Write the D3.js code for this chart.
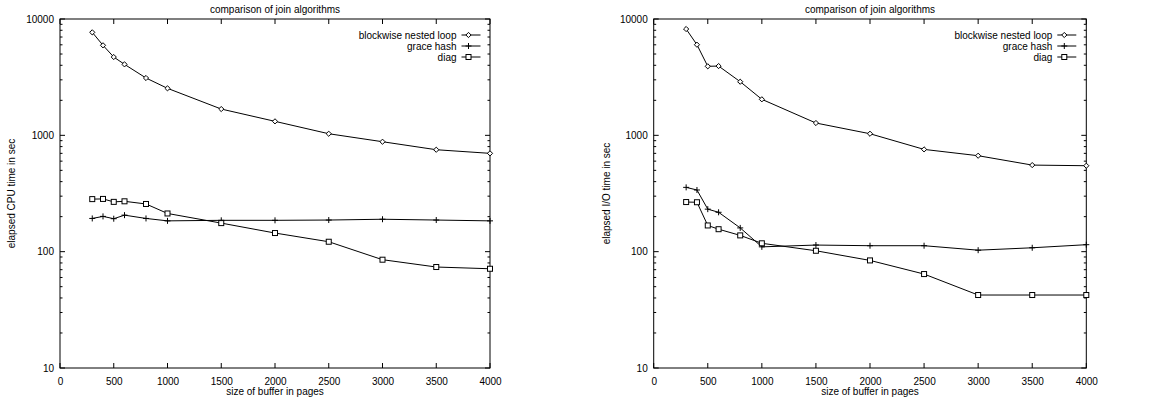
<!DOCTYPE html>
<html><head><meta charset="utf-8">
<script src="https://cdn.jsdelivr.net/npm/d3@7/dist/d3.min.js"></script>
<style>body{margin:0;background:#fff}svg{display:block}text{font-family:"Liberation Sans",Arial,sans-serif;font-size:10px;fill:#000}</style>
</head><body>
<svg id="c" width="1157" height="401"></svg>
<script>
const bufferSizes = [300,400,500,600,800,1000,1500,2000,2500,3000,3500,4000];
const seriesNames = ["blockwise nested loop","grace hash","diag"];
const cpuBlockwise = [7680,5940,4710,4075,3110,2535,1683,1319,1032,881,752,700];
const cpuGrace     = [193,201,192,206,193,184,186,186,187,190,187,184];
const cpuDiag      = [283,284,268,271,257,213,176,144.6,121.7,85.3,73.8,71.3];
const ioBlockwise  = [8200,6010,3920,3940,2890,2040,1276,1032,757,668,555,548];
const ioGrace      = [357,339,232,218,160,110,114,112.5,112.5,103,108,114.8];
const ioDiag       = [267,266,168,156,138,118,101.8,84.1,64.2,42.4,42.4,42.4];
const xTicks = [0,500,1000,1500,2000,2500,3000,3500,4000];
const yTicks = [10,100,1000,10000];
const titleText = "comparison of join algorithms";
const xLabel = "size of buffer in pages";
const cpuLabel = "elapsed CPU time in sec";
const ioLabel = "elapsed I/O time in sec";

const svg = d3.select("#c");
const markers = ["diamond","plus","square"];

function marker(g, type, x, y){
  if(type==="diamond"){
    g.append("path").attr("d",`M${x},${y-2.6}L${x+2.6},${y}L${x},${y+2.6}L${x-2.6},${y}Z`).attr("fill","#fff").attr("stroke","#000").attr("stroke-width",1);
  } else if(type==="plus"){
    g.append("path").attr("d",`M${x-3},${y}H${x+3}M${x},${y-3}V${y+3}`).attr("stroke","#000").attr("stroke-width",1).attr("fill","none");
  } else {
    g.append("rect").attr("x",x-2.5).attr("y",y-2.5).attr("width",5).attr("height",5).attr("fill","#fff").attr("stroke","#000").attr("stroke-width",1);
  }
}

function panel(left, right, ylab, ylabX, series, legendRight){
  const top=19, bottom=368;
  const x = d3.scaleLinear().domain([0,4000]).range([left,right]);
  const y = d3.scaleLog().domain([10,10000]).range([bottom,top]);
  const g = svg.append("g");
  g.append("rect").attr("x",left).attr("y",top).attr("width",right-left).attr("height",bottom-top).attr("fill","none").attr("stroke","#000").attr("stroke-width",1);
  const bAx = d3.axisBottom(x).tickValues(xTicks).tickSize(0).tickPadding(10).tickFormat(d3.format("d"));
  const ax = g.append("g").attr("transform",`translate(0,${bottom})`).call(bAx);
  ax.select(".domain").remove();
  ax.selectAll("text").style("font-size","10px").style("font-family","Liberation Sans, Arial, sans-serif");
  xTicks.forEach(t=>{
    g.append("line").attr("x1",x(t)).attr("x2",x(t)).attr("y1",bottom).attr("y2",bottom-5).attr("stroke","#000");
    g.append("line").attr("x1",x(t)).attr("x2",x(t)).attr("y1",top).attr("y2",top+5).attr("stroke","#000");
  });
  const lAx = d3.axisLeft(y).tickValues(yTicks).tickSize(0).tickPadding(6).tickFormat(d3.format("d"));
  const ay = g.append("g").attr("transform",`translate(${left},0)`).call(lAx);
  ay.select(".domain").remove();
  ay.selectAll("text").style("font-size","10px").style("font-family","Liberation Sans, Arial, sans-serif");
  const minor = y.ticks().filter(v=>yTicks.indexOf(v)<0);
  yTicks.forEach(t=>{
    g.append("line").attr("x1",left).attr("x2",left+5).attr("y1",y(t)).attr("y2",y(t)).attr("stroke","#000");
    g.append("line").attr("x1",right).attr("x2",right-5).attr("y1",y(t)).attr("y2",y(t)).attr("stroke","#000");
  });
  minor.forEach(t=>{
    g.append("line").attr("x1",left).attr("x2",left+2.5).attr("y1",y(t)).attr("y2",y(t)).attr("stroke","#000");
    g.append("line").attr("x1",right).attr("x2",right-2.5).attr("y1",y(t)).attr("y2",y(t)).attr("stroke","#000");
  });
  g.append("text").attr("x",(left+right)/2).attr("y",12.5).attr("text-anchor","middle").text(titleText);
  g.append("text").attr("x",(left+right)/2).attr("y",395).attr("text-anchor","middle").text(xLabel);
  g.append("text").attr("transform",`translate(${ylabX},${(top+bottom)/2}) rotate(-90)`).attr("text-anchor","middle").text(ylab);
  const line = d3.line().x((d,i)=>x(bufferSizes[i])).y(d=>y(d));
  series.forEach((s,k)=>{
    g.append("path").attr("d",line(s)).attr("fill","none").attr("stroke","#000").attr("stroke-width",1);
    s.forEach((v,i)=>marker(g,markers[k],x(bufferSizes[i]),y(v)));
  });
  seriesNames.forEach((n,k)=>{
    const ly = 35 + k*11;
    g.append("text").attr("x",legendRight).attr("y",ly+3.5).attr("text-anchor","end").text(n);
    g.append("line").attr("x1",legendRight+5).attr("x2",legendRight+24).attr("y1",ly).attr("y2",ly).attr("stroke","#000");
    marker(g,markers[k],legendRight+12,ly);
  });
}

panel(60,490,cpuLabel,15,[cpuBlockwise,cpuGrace,cpuDiag],456.5);
panel(653.7,1086.3,ioLabel,610,[ioBlockwise,ioGrace,ioDiag],1052.3);
</script>
</body></html>
